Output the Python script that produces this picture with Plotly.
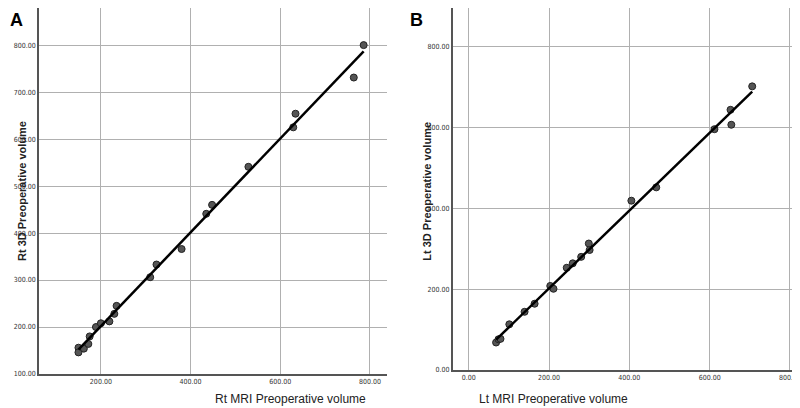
import numpy as np
import plotly.graph_objects as go

rt_mri = [150, 150, 162, 172, 175, 189, 200, 219, 230, 235, 310, 324, 380, 435, 448, 529, 629, 634, 764, 786]
rt_3d = [156, 146, 154, 164, 180, 200, 208, 212, 228, 245, 306, 333, 366, 441, 460, 541, 625, 654, 731, 800]
lt_mri = [68, 74, 79, 101, 139, 164, 203, 211, 244, 259, 280, 299, 301, 405, 467, 612, 652, 654, 706]
lt_3d = [68, 76, 77, 113, 144, 164, 208, 201, 253, 264, 280, 313, 297, 419, 452, 596, 644, 607, 702]
ticks_a_x = [200, 400, 600, 800]
ticks_a_y = [100, 200, 300, 400, 500, 600, 700, 800]
ticks_b = [0, 200, 400, 600, 800]

fig = go.Figure()
mk = dict(color="#555555", size=7, line=dict(color="#222222", width=1))
for x, y, xa, ya in [(rt_mri, rt_3d, "x", "y"), (lt_mri, lt_3d, "x2", "y2")]:
    fig.add_trace(go.Scatter(x=x, y=y, mode="markers", marker=mk, xaxis=xa, yaxis=ya, showlegend=False))
    m, b = np.polyfit(x, y, 1)
    xs = [min(x), max(x)]
    fig.add_trace(go.Scatter(x=xs, y=[m * v + b for v in xs], mode="lines",
                             line=dict(color="black", width=2.5), xaxis=xa, yaxis=ya, showlegend=False))

ax = dict(showgrid=True, gridcolor="#b0b0b0", gridwidth=1, showline=True, linecolor="#555555",
          linewidth=1.5, zeroline=False, ticks="", automargin=False,
          tickfont=dict(size=7, family="DejaVu Sans Condensed, Liberation Sans", color="#333"),
          tickformat=".2f")
tf = dict(size=12, family="Liberation Sans Narrow, Liberation Sans", color="#222")
yt = dict(size=11, family="Liberation Sans", color="#222")
fig.update_layout(
    width=800, height=408, margin=dict(l=31, r=0, t=0, b=42),
    plot_bgcolor="white", paper_bgcolor="white",
    xaxis=dict(ax, domain=[0, 0.4525], range=[62, 838], tickvals=ticks_a_x),
    yaxis=dict(ax, domain=[0, 1], range=[100, 879], tickvals=ticks_a_y),
    xaxis2=dict(ax, domain=[0.538, 1], range=[-40, 845], tickvals=ticks_b, anchor="y2"),
    yaxis2=dict(ax, domain=[0.011, 1], range=[0, 896], tickvals=ticks_b, anchor="x2"),
    annotations=[
        dict(text="<b>A</b>", x=0, y=1, xref="paper", yref="paper", xshift=-31, showarrow=False,
             xanchor="left", yanchor="top", font=dict(size=18, family="Liberation Sans", color="black")),
        dict(text="<b>B</b>", x=0.538, y=1, xref="paper", yref="paper", xshift=-45, showarrow=False,
             xanchor="left", yanchor="top", font=dict(size=18, family="Liberation Sans", color="black")),
        dict(text="<b>Rt 3D Preoperative volume</b>", x=0, y=0.5, xref="paper", yref="paper", xshift=-25,
             textangle=-90, showarrow=False, font=yt),
        dict(text="<b>Lt 3D Preoperative volume</b>", x=0.538, y=0.5, xref="paper", yref="paper", xshift=-26,
             textangle=-90, showarrow=False, font=yt),
        dict(text="Rt MRI Preoperative volume", x=0.2262, y=0, xref="paper", yref="paper", yshift=-34,
             showarrow=False, font=tf),
        dict(text="Lt MRI Preoperative volume", x=0.769, y=0, xref="paper", yref="paper", yshift=-34,
             showarrow=False, font=tf),
    ],
)
fig.write_html("out.html")
